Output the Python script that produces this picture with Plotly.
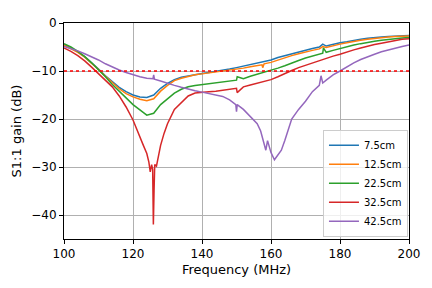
import plotly.graph_objects as go

# ---- data ----
freq_blue = [100,102,104,106,108,110,112,114,116,118,120,122,124,126,128,130,132,134,136,138,140,142,144,146,148,150,152,154,156,158,160,162,164,166,168,170,172,174,175,176,178,180,182,184,186,188,190,192,194,196,198,200]
gain_blue = [-4.5,-5.2,-6.0,-7.0,-8.2,-9.6,-11.0,-12.3,-13.4,-14.3,-15.0,-15.4,-15.5,-15.0,-13.6,-12.6,-11.8,-11.3,-11.0,-10.7,-10.5,-10.3,-10.1,-9.9,-9.6,-9.3,-9.0,-8.7,-8.3,-8.0,-7.7,-7.2,-6.8,-6.4,-6.0,-5.6,-5.3,-5.0,-4.4,-4.8,-4.4,-4.1,-3.9,-3.6,-3.4,-3.2,-3.0,-2.9,-2.8,-2.7,-2.6,-2.6]

freq_orange = [100,102,104,106,108,110,112,114,116,118,120,122,124,126,128,130,132,134,136,138,140,142,144,146,148,150,152,154,156,157.4,157.6,158,160,162,164,166,168,170,172,174,175,176,178,180,182,184,186,188,190,192,194,196,198,200]
gain_orange = [-4.6,-5.3,-6.1,-7.1,-8.3,-9.7,-11.1,-12.5,-13.7,-14.7,-15.4,-15.9,-16.2,-15.8,-14.2,-13.0,-12.0,-11.5,-11.1,-10.8,-10.6,-10.4,-10.3,-10.1,-9.9,-9.7,-9.4,-9.1,-8.8,-8.7,-9.3,-8.5,-8.2,-7.7,-7.2,-6.8,-6.4,-6.0,-5.7,-5.4,-4.9,-5.1,-4.7,-4.4,-4.1,-3.8,-3.6,-3.4,-3.2,-3.0,-2.9,-2.8,-2.7,-2.7]

freq_green = [100,102,104,106,108,110,112,114,116,118,120,122,124,126,128,130,132,134,136,138,140,142,144,146,148,150,150.2,152,154,156,158,160,162,164,166,168,170,172,174,175,175.2,176,178,180,182,184,186,188,190,192,194,196,198,200]
gain_green = [-4.3,-5.0,-5.9,-7.0,-8.3,-9.7,-11.2,-12.8,-14.3,-15.6,-17.0,-18.2,-19.2,-18.8,-17.0,-15.8,-14.6,-13.8,-13.3,-13.0,-12.8,-12.6,-12.5,-12.3,-12.1,-11.9,-11.2,-11.6,-11.1,-10.7,-10.3,-9.9,-9.4,-8.9,-8.3,-7.8,-7.3,-6.9,-6.5,-6.3,-5.2,-6.1,-5.7,-5.3,-4.9,-4.6,-4.3,-4.0,-3.8,-3.6,-3.4,-3.2,-3.1,-3.0]

freq_red = [100,102,104,106,108,110,112,114,116,118,120,122,123,124,124.6,125.0,125.4,125.7,125.9,126.1,126.3,126.8,127.4,128,129,130,132,134,136,138,140,142,144,146,148,150,150.2,152,154,156,158,160,162,164,166,168,170,172,174,176,178,180,182,184,186,188,190,192,194,196,198,200]
gain_red = [-5.2,-5.9,-6.8,-7.9,-9.2,-10.6,-12.0,-13.3,-15.2,-17.5,-20.2,-23.5,-25.5,-27.2,-29.0,-31.0,-29.5,-30.5,-42.0,-35.0,-29.5,-29.8,-27.5,-25.5,-23.0,-21.0,-18.0,-16.5,-15.2,-14.6,-14.4,-14.3,-14.2,-14.0,-13.8,-13.6,-14.5,-13.3,-12.9,-12.5,-12.1,-11.8,-11.2,-10.5,-9.9,-9.3,-8.8,-8.3,-7.8,-7.4,-6.9,-6.5,-6.0,-5.6,-5.2,-4.8,-4.5,-4.2,-3.9,-3.6,-3.4,-3.3]

freq_purple = [100,102,104,106,108,110,112,114,116,118,120,122,124,125.8,126,126.2,128,130,132,134,136,138,140,142,144,146,148,149.8,150,150.2,152,154,156,157,158,158.5,159,160,161,162,163,164,165,166,168,170,172,174,174.5,175,176,178,180,182,184,186,188,190,192,194,196,198,200]
gain_purple = [-4.9,-5.3,-5.8,-6.4,-7.0,-7.7,-8.5,-9.2,-9.8,-10.3,-10.8,-11.2,-11.5,-11.6,-10.8,-11.7,-12.1,-12.6,-13.0,-13.4,-13.8,-14.1,-14.4,-14.7,-15.0,-15.3,-16.0,-17.0,-18.5,-17.0,-18.0,-19.4,-21.0,-22.5,-25.0,-26.5,-24.5,-27.0,-28.5,-27.5,-26.5,-24.5,-22.0,-20.0,-18.0,-16.3,-14.3,-13.0,-11.0,-12.5,-11.9,-10.8,-10.0,-9.1,-8.3,-7.6,-7.0,-6.5,-6.0,-5.6,-5.2,-4.9,-4.6]

threshold_db = -10
series = [
    ("7.5cm", freq_blue, gain_blue, "#1f77b4"),
    ("12.5cm", freq_orange, gain_orange, "#ff7f0e"),
    ("22.5cm", freq_green, gain_green, "#2ca02c"),
    ("32.5cm", freq_red, gain_red, "#d62728"),
    ("42.5cm", freq_purple, gain_purple, "#9467bd"),
]

fig = go.Figure()
for name, x, y, c in series:
    fig.add_trace(go.Scatter(x=x, y=y, mode="lines", name=name,
                             line=dict(color=c, width=1.5)))

fig.add_shape(type="line", xref="paper", x0=0, x1=1, yref="y",
              y0=threshold_db, y1=threshold_db,
              line=dict(color="red", width=1.5, dash="dot"))

font = "DejaVu Sans"
axis_common = dict(showline=True, linecolor="black", linewidth=1, mirror=True,
                   ticks="outside", ticklen=4, tickcolor="black",
                   showgrid=True, gridcolor="#b0b0b0", gridwidth=1,
                   zeroline=False, tickfont=dict(family=font, size=12, color="black"))

fig.update_layout(
    width=424, height=280,
    margin=dict(l=55, r=23, t=8, b=49),
    paper_bgcolor="white", plot_bgcolor="white",
    font=dict(family=font, color="black"),
    xaxis=dict(range=[100, 200], tickvals=[100, 120, 140, 160, 180, 200],
               title=dict(text="Frequency (MHz)", font=dict(family=font, size=13), standoff=4),
               **axis_common),
    yaxis=dict(range=[-45, 0], tickvals=[0, -10, -20, -30, -40],
               title=dict(text="S1:1 gain (dB)", font=dict(family=font, size=13), standoff=6),
               **axis_common),
    legend=dict(x=0.997, y=0.01, xanchor="right", yanchor="bottom",
                bgcolor="rgba(255,255,255,0.8)", bordercolor="#cccccc", borderwidth=1,
                font=dict(family=font, size=10), tracegroupgap=0,
                itemwidth=30),
    showlegend=True,
)

fig.write_html("out.html")
